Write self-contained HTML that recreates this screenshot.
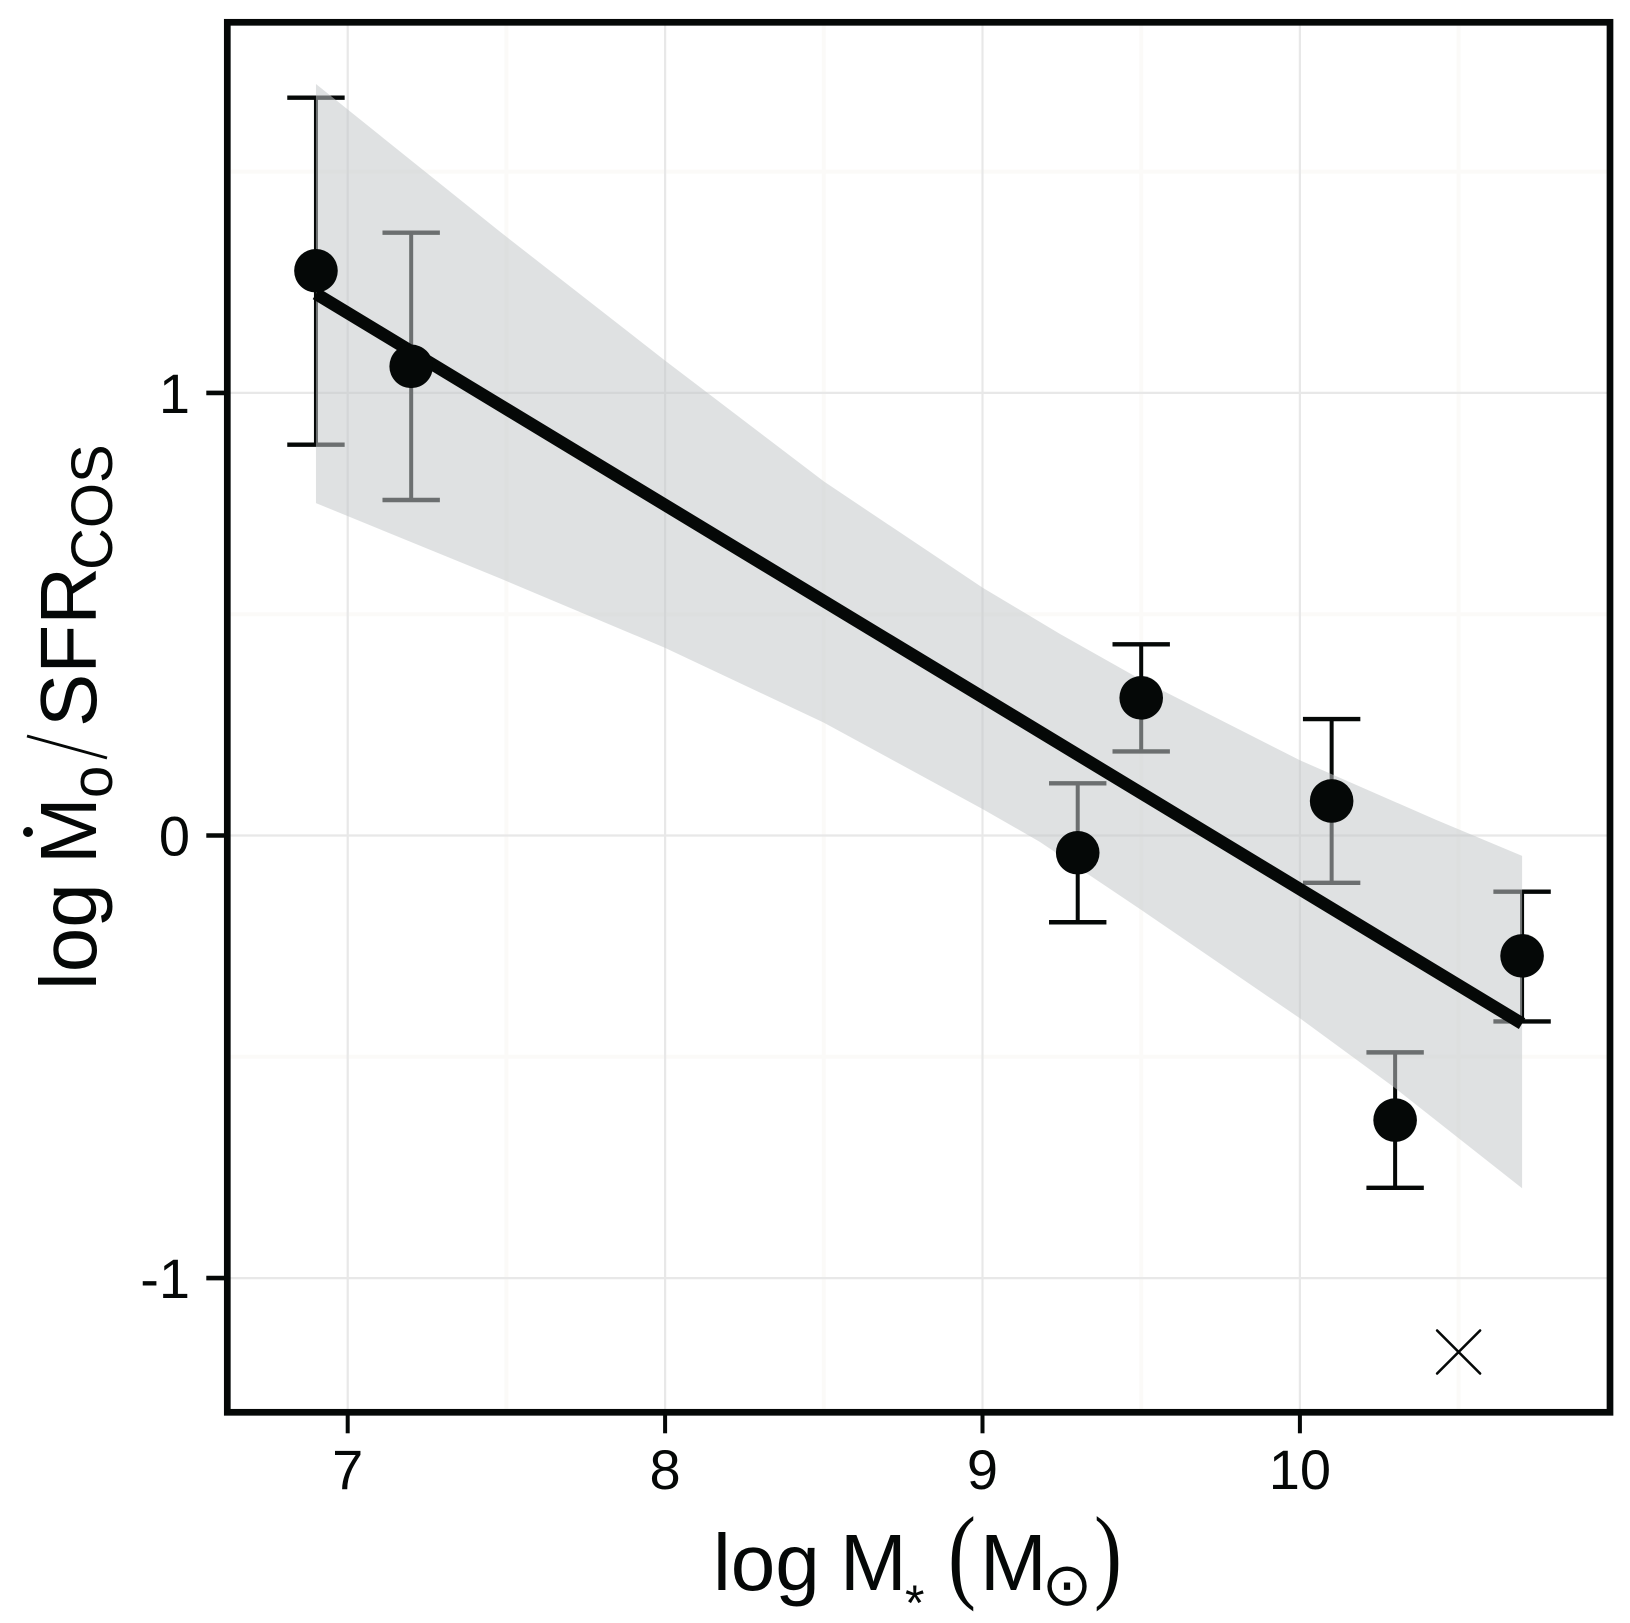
<!DOCTYPE html>
<html lang="en">
<head>
<meta charset="utf-8">
<title>log M-dot over SFR versus log stellar mass</title>
<style>
html,body{margin:0;padding:0;background:#fff;}
svg{display:block;}
text{font-family:"Liberation Sans",Arial,sans-serif;fill:#050807;}
</style>
</head>
<body>
<svg id="chart" xmlns="http://www.w3.org/2000/svg" width="1630" height="1623" viewBox="0 0 1630 1623">
  <rect x="0" y="0" width="1630" height="1623" fill="#ffffff"/>
  <g id="grid"></g>
  <g id="errors"></g>
  <g id="band"></g>
  <g id="fit"></g>
  <g id="points"></g>
  <g id="cross"></g>
  <g id="axes"></g>
  <rect x="227.3" y="22.3" width="1382.7" height="1390" fill="none" stroke="#050807" stroke-width="6.7"/>

  <g>
    <text x="713" y="1590" font-size="80">log</text>
    <text x="840" y="1590" font-size="80">M</text>
    <text x="905" y="1620" font-size="50">*</text>
    <text transform="translate(948 1589) scale(0.8 1)" font-size="105" style="font-family:'Liberation Serif',serif">(</text>
    <text x="980" y="1590" font-size="80">M</text>
    <text x="1067" y="1605" font-size="60" text-anchor="middle" style="font-family:'DejaVu Sans',sans-serif">⊙</text>
    <text transform="translate(1094 1589) scale(0.8 1)" font-size="105" style="font-family:'Liberation Serif',serif">)</text>
  </g>

  <g>
    <text transform="translate(96 990) rotate(-90)" font-size="80">log</text>
    <text transform="translate(96 864) rotate(-90)" font-size="80">M</text>
    <circle cx="28" cy="832" r="5" fill="#050807"/>
    <text transform="translate(112 798) rotate(-90)" font-size="58">o</text>
    <line x1="27" y1="736" x2="107" y2="758" stroke="#050807" stroke-width="2.8"/>
    <text transform="translate(96 727) rotate(-90)" font-size="80">SFR</text>
    <text transform="translate(112 570) rotate(-90)" font-size="58">COS</text>
  </g>
</svg>
<script>
var xTicks = [7, 8, 9, 10];
var xTickLabels = ['7', '8', '9', '10'];
var xMinorGrid = [7.5, 8.5, 9.5, 10.5];
var yTicks = [1, 0, -1];
var yTickLabels = ['1', '0', '-1'];
var yMinorGrid = [1.5, 0.5, -0.5];

var pointX = [6.9, 7.2, 9.3, 9.5, 10.1, 10.3, 10.7];
var pointY = [1.276, 1.06, -0.039, 0.311, 0.078, -0.643, -0.272];
var errorHigh = [1.667, 1.362, 0.118, 0.432, 0.263, -0.49, -0.127];
var errorLow = [0.883, 0.758, -0.196, 0.19, -0.107, -0.796, -0.42];

var lineX = [6.9, 10.7];
var lineY = [1.224, -0.425];

var bandUpperX = [6.9, 7.48, 8, 8.5, 9, 9.245, 9.5, 10, 10.43, 10.7];
var bandUpperY = [1.698, 1.364, 1.073, 0.8, 0.56, 0.455, 0.352, 0.17, 0.035, -0.046];
var bandLowerX = [6.9, 7.48, 8, 8.5, 9, 9.18, 9.5, 9.81, 10, 10.295, 10.7];
var bandLowerY = [0.751, 0.581, 0.424, 0.255, 0.06, -0.014, -0.168, -0.32, -0.413, -0.568, -0.797];

var crossX = [10.5];
var crossY = [-1.167];

var NS = 'http://www.w3.org/2000/svg';
var plotLeft = 227.3, plotRight = 1610, plotTop = 22.3, plotBottom = 1412.3;
function sx(v) { return 347.7 + 317.4 * (v - 7); }
function sy(v) { return 835.5 - 442.6 * v; }
function mk(parent, tag, attrs) {
  var el = document.createElementNS(NS, tag);
  for (var k in attrs) { el.setAttribute(k, attrs[k]); }
  parent.appendChild(el);
  return el;
}
var gGrid = document.getElementById('grid');
var gErr = document.getElementById('errors');
var gBand = document.getElementById('band');
var gFit = document.getElementById('fit');
var gPts = document.getElementById('points');
var gCross = document.getElementById('cross');
var gAxes = document.getElementById('axes');
var i, el;

for (i = 0; i < xMinorGrid.length; i++) {
  el = mk(gGrid, 'line', {x1: sx(xMinorGrid[i]), x2: sx(xMinorGrid[i]), y1: plotTop, y2: plotBottom, stroke: '#fbfaf8', 'stroke-width': 4});
  
  
}
for (i = 0; i < yMinorGrid.length; i++) {
  el = mk(gGrid, 'line', {x1: plotLeft, x2: plotRight, y1: sy(yMinorGrid[i]), y2: sy(yMinorGrid[i]), stroke: '#fbfaf8', 'stroke-width': 4});
  
  
}
for (i = 0; i < xTicks.length; i++) {
  el = mk(gGrid, 'line', {x1: sx(xTicks[i]), x2: sx(xTicks[i]), y1: plotTop, y2: plotBottom, stroke: '#e8e8e8', 'stroke-width': 2.2});
  
  
}
for (i = 0; i < yTicks.length; i++) {
  el = mk(gGrid, 'line', {x1: plotLeft, x2: plotRight, y1: sy(yTicks[i]), y2: sy(yTicks[i]), stroke: '#e8e8e8', 'stroke-width': 2.2});
  
  
}

for (i = 0; i < pointX.length; i++) {
  var px = sx(pointX[i]);
  el = mk(gErr, 'line', {x1: px, x2: px, y1: sy(errorHigh[i]), y2: sy(errorLow[i]), stroke: '#050807', 'stroke-width': 4});
  
  
  el = mk(gErr, 'line', {x1: px - 28.7, x2: px + 28.7, y1: sy(errorHigh[i]), y2: sy(errorHigh[i]), stroke: '#050807', 'stroke-width': 4.4});
  
  
  el = mk(gErr, 'line', {x1: px - 28.7, x2: px + 28.7, y1: sy(errorLow[i]), y2: sy(errorLow[i]), stroke: '#050807', 'stroke-width': 4.4});
  
  
}

var bandPts = [];
for (i = 0; i < bandUpperX.length; i++) { bandPts.push(sx(bandUpperX[i]) + ',' + sy(bandUpperY[i])); }
for (i = bandLowerX.length - 1; i >= 0; i--) { bandPts.push(sx(bandLowerX[i]) + ',' + sy(bandLowerY[i])); }
el = mk(gBand, 'polygon', {points: bandPts.join(' '), fill: 'rgb(196,199,201)', 'fill-opacity': 0.54});



el = mk(gFit, 'line', {x1: sx(lineX[0]), y1: sy(lineY[0]), x2: sx(lineX[1]), y2: sy(lineY[1]), stroke: '#050807', 'stroke-width': 12.5});



for (i = 0; i < pointX.length; i++) {
  el = mk(gPts, 'circle', {cx: sx(pointX[i]), cy: sy(pointY[i]), r: 21.8, fill: '#050807'});
  
  
}

for (i = 0; i < crossX.length; i++) {
  var cx = sx(crossX[i]), cy = sy(crossY[i]);
  el = mk(gCross, 'path', {d: 'M' + (cx - 21.5) + ' ' + (cy - 21.5) + 'L' + (cx + 21.5) + ' ' + (cy + 21.5) + 'M' + (cx - 21.5) + ' ' + (cy + 21.5) + 'L' + (cx + 21.5) + ' ' + (cy - 21.5), fill: 'none', stroke: '#050807', 'stroke-width': 2.6, 'stroke-linecap': 'round'});
  
  
}

for (i = 0; i < xTicks.length; i++) {
  el = mk(gAxes, 'line', {x1: sx(xTicks[i]), x2: sx(xTicks[i]), y1: plotBottom, y2: plotBottom + 21, stroke: '#050807', 'stroke-width': 4});
  
  
  el = mk(gAxes, 'text', {x: sx(xTicks[i]), y: 1489, 'font-size': 56, 'text-anchor': 'middle'});
  el.textContent = xTickLabels[i];
  
  
}
for (i = 0; i < yTicks.length; i++) {
  el = mk(gAxes, 'line', {x1: plotLeft - 21, x2: plotLeft, y1: sy(yTicks[i]), y2: sy(yTicks[i]), stroke: '#050807', 'stroke-width': 4.6});
  
  
  el = mk(gAxes, 'text', {x: 190, y: sy(yTicks[i]) + 20, 'font-size': 56, 'text-anchor': 'end'});
  el.textContent = yTickLabels[i];
  
  
}
</script>
</body>
</html>
